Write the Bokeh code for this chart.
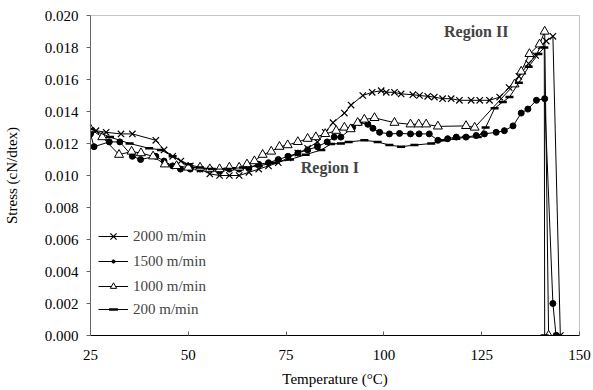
from bokeh.plotting import figure
from bokeh.models import Range1d, Label, FixedTicker, Legend, LegendItem
from bokeh.embed import file_html
from bokeh.resources import INLINE

# ---- data ----
t_2000 = [25, 26.4, 29, 32.8, 35.7, 41.7, 43.8, 46, 48.1, 50.5, 53, 55.5, 58, 60.5, 63, 65.5, 68,
          70.5, 73, 75.5, 78, 80.5, 83, 85, 87, 89.9, 91.6, 94.6, 97, 99.3, 100.6, 102.7, 104.4,
          107.4, 109.1, 111.2, 112.9, 115, 117.2, 119.3, 122.3, 124.5, 127, 129.6, 132, 134.5,
          137, 138.8, 140.2, 141.5, 143.2, 145.1]
s_2000 = [0.0128, 0.0128, 0.0127, 0.0126, 0.0126, 0.0122, 0.0116, 0.0112, 0.0109, 0.0106, 0.0104,
          0.0101, 0.0100, 0.0100, 0.0100, 0.0102, 0.0104, 0.0106, 0.0108, 0.0111, 0.0114, 0.0117,
          0.0121, 0.0127, 0.0133, 0.0139, 0.0144, 0.0150, 0.0152, 0.0153, 0.0152, 0.0152, 0.0151,
          0.01505, 0.0150, 0.01495, 0.0149, 0.0148, 0.0148, 0.0147, 0.0147, 0.0147, 0.0147,
          0.0149, 0.0155, 0.0162, 0.0170, 0.0175, 0.0181, 0.0184, 0.0187, 0.0]

t_1500 = [25, 25.9, 29.8, 32.5, 35.7, 37.8, 41.7, 43.8, 46, 48, 50.5, 53, 55.5, 58, 60.5, 63, 65.5,
          68, 70.5, 73, 75.5, 78, 80.5, 83, 85.5, 87.3, 89, 92, 93.7, 95.9, 97.2, 98.9, 101.4, 104,
          106.8, 109, 111.6, 113.8, 116.3, 118.5, 121, 123.6, 125.7, 128.7, 130.8, 133, 135.1,
          136.8, 139, 141.1, 143.2, 144]
s_1500 = [0.0126, 0.0118, 0.0121, 0.0121, 0.0112, 0.0110, 0.0112, 0.0109, 0.0106, 0.0104, 0.0104,
          0.0104, 0.0104, 0.0103, 0.0104, 0.0104, 0.0105, 0.0107, 0.0108, 0.0110, 0.0112, 0.0114,
          0.0116, 0.0118, 0.0121, 0.0124, 0.0124, 0.0130, 0.0133, 0.0132, 0.01295, 0.0127, 0.0126,
          0.01263, 0.0126, 0.0126, 0.0126, 0.0122, 0.0123, 0.0124, 0.0124, 0.0125, 0.0126, 0.0127,
          0.0128, 0.0131, 0.0139, 0.01415, 0.0147, 0.0148, 0.0020, 0.0]

t_1000 = [25, 28, 32.3, 35.5, 37.9, 41, 44, 47, 50, 53, 55.5, 58, 60.5, 63, 65, 66.9, 69, 71.2,
          73.3, 75.4, 78, 80.5, 82.6, 85, 87.8, 89.9, 91.5, 93.3, 95, 97.6, 102.7, 106.8, 108.9,
          110.8, 113.8, 121, 123.2, 133.4, 135.1, 137.2, 139.8, 141.1, 142.1]
s_1000 = [0.0129, 0.0124, 0.0113, 0.0115, 0.0114, 0.0112, 0.0107, 0.0106, 0.0105, 0.0105, 0.0104,
          0.0104, 0.0105, 0.0105, 0.0107, 0.0109, 0.0113, 0.0115, 0.0118, 0.0119, 0.0121, 0.0123,
          0.0124, 0.0126, 0.0128, 0.0130, 0.0129, 0.0133, 0.0135, 0.0136, 0.0133, 0.0132, 0.0132,
          0.0132, 0.01307, 0.0131, 0.0130, 0.0157, 0.0165, 0.0176, 0.0182, 0.0190, 0.0]

t_200 = [25, 30, 35, 40, 43, 46, 50, 53, 56, 60, 64, 68, 72, 76, 80, 84, 86.5, 89, 91, 95, 98.4,
         101.4, 104.4, 107.8, 112.1, 115.5, 118.5, 121, 124, 126, 128.3, 130.4, 132.1, 134.5, 137,
         139.5, 141, 141.1]
s_200 = [0.0129, 0.0124, 0.0120, 0.0117, 0.0116, 0.0112, 0.0107, 0.0105, 0.0104, 0.0104, 0.0105,
         0.0106, 0.0108, 0.0110, 0.0113, 0.0116, 0.01197, 0.0120, 0.0121, 0.0122, 0.0121, 0.0119,
         0.0118, 0.0119, 0.0120, 0.0122, 0.0123, 0.0124, 0.0124, 0.0130, 0.0142, 0.0146, 0.0149,
         0.0158, 0.0168, 0.0176, 0.0180, 0.0]

series_labels = ["2000 m/min", "1500 m/min", "1000 m/min", "200 m/min"]
x_ticks = [25, 50, 75, 100, 125, 150]
y_ticks = [0.000, 0.002, 0.004, 0.006, 0.008, 0.010, 0.012, 0.014, 0.016, 0.018, 0.020]
y_tick_labels = {v: f"{v:.3f}" for v in y_ticks}

FONT = "Liberation Serif"

p = figure(width=593, height=390, output_backend="svg", toolbar_location=None,
           x_range=Range1d(25, 150), y_range=Range1d(0, 0.020),
           min_border_left=90, min_border_right=14, min_border_top=15, min_border_bottom=55)
p.background_fill_color = "white"
p.border_fill_color = "white"
p.outline_line_color = "#888888"
p.outline_line_dash = "1 1"
p.xgrid.visible = False
p.ygrid.visible = False

p.xaxis.ticker = FixedTicker(ticks=x_ticks)
p.yaxis.ticker = FixedTicker(ticks=y_ticks)
p.yaxis.major_label_overrides = y_tick_labels
p.xaxis.axis_label = "Temperature (\u00b0C)"
p.yaxis.axis_label = "Stress (cN/dtex)"
for ax in (p.xaxis[0], p.yaxis[0]):
    ax.major_label_text_font = FONT
    ax.major_label_text_font_size = "15px"
    ax.major_label_text_color = "black"
    ax.axis_label_text_font = FONT
    ax.axis_label_text_font_size = "15px"
    ax.axis_label_text_font_style = "normal"
    ax.axis_label_text_color = "black"
    ax.minor_tick_line_color = None
    ax.major_tick_line_color = "#666666"
p.xaxis.axis_line_color = "black"
p.yaxis.axis_line_color = "#666666"
p.xaxis.major_tick_in = 4
p.xaxis.major_tick_out = 0
p.yaxis.major_tick_in = 0
p.yaxis.major_tick_out = 4
p.xaxis.major_label_standoff = 14
p.yaxis.major_label_standoff = 8
p.xaxis.axis_label_standoff = 8
p.yaxis.axis_label_standoff = 22

lw = 1
l1 = p.line(t_2000, s_2000, color="black", line_width=lw)
m1 = p.scatter(t_2000, s_2000, marker="x", size=9, line_color="black", line_width=1.2)

l2 = p.line(t_1500, s_1500, color="black", line_width=lw)
m2 = p.scatter(t_1500, s_1500, marker="circle", size=6, fill_color="black", line_color="black")

l3 = p.line(t_1000, s_1000, color="black", line_width=lw)
m3 = p.scatter(t_1000, s_1000, marker="triangle", size=9, fill_color="white", line_color="black",
               line_width=1)

l4 = p.line(t_200, s_200, color="black", line_width=lw)
m4 = p.scatter(t_200, s_200, marker="dash", size=8, line_color="black", line_width=2.5)

p.add_layout(Label(x=86.2, y=0.0105, text="Region I", text_font=FONT, text_font_size="16px",
                   text_font_style="bold", text_align="center", text_baseline="middle"))
p.add_layout(Label(x=123.6, y=0.0190, text="Region II", text_font=FONT, text_font_size="16px",
                   text_font_style="bold", text_align="center", text_baseline="middle"))

# one small legend per row so each marker gets its own size
rows = [(series_labels[0], [l1, m1], 22, 88),
        (series_labels[1], [l2, m2], 8, 64),
        (series_labels[2], [l3, m3], 16, 39),
        (series_labels[3], [l4, m4], 22, 15)]
for lab, rends, gh, yoff in rows:
    lg = Legend(items=[LegendItem(label=lab, renderers=rends)], location=(8, yoff))
    lg.border_line_color = None
    lg.background_fill_alpha = 0
    lg.label_text_font = FONT
    lg.label_text_font_size = "15px"
    lg.glyph_width = 30
    lg.glyph_height = gh
    lg.label_height = 20
    lg.label_standoff = 5
    lg.padding = 0
    lg.margin = 0
    p.add_layout(lg)

open("out.html", "w").write(file_html(p, INLINE))
